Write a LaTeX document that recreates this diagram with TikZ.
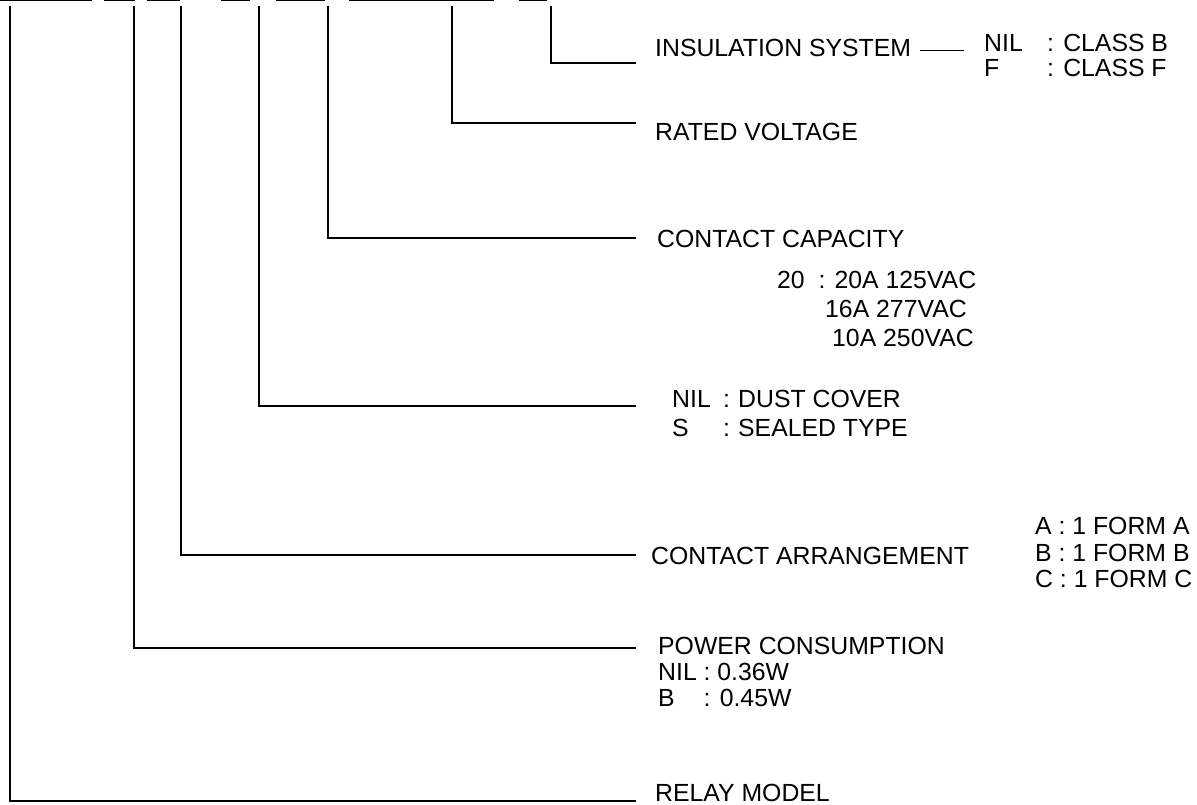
\documentclass[tikz,border=0pt]{standalone}
\usepackage{fontspec}
\setmainfont{Liberation Sans}
\usetikzlibrary{positioning, calc}
\usepackage{xcolor}
\definecolor{leadblack}{RGB}{0, 0, 0}
\tikzstyle{codetext} = [anchor=base west, inner sep=0pt, font=\fontsize{24.8}{28}\selectfont]
\tikzstyle{leadline} = [line width=2.8pt, leadblack]
\tikzstyle{codebar} = [line width=2.6pt, leadblack]
\tikzstyle{thinlead} = [line width=1.2pt, leadblack]

\begin{document}
\begin{tikzpicture}[x=1pt, y=-1pt]
\useasboundingbox (0,0) rectangle (1197,804);

% underlines of the type code
\foreach \a/\b in {0/92, 104/135, 147/180, 221/250, 276/325, 349/494, 519/547}
    \draw[codebar] (\a,0) -- (\b,0);

% tops and ends of the leaders
\coordinate (insT) at (551,6);   \coordinate (insE) at (636,63);
\coordinate (ratedT) at (452,6); \coordinate (ratedE) at (636,123);
\coordinate (capT) at (328,6);   \coordinate (capE) at (636,238);
\coordinate (dustT) at (259,6);  \coordinate (dustE) at (636,406);
\coordinate (arrT) at (181,6);   \coordinate (arrE) at (636,555);
\coordinate (powerT) at (134,6); \coordinate (powerE) at (636,648);
\coordinate (relayT) at (10,6);  \coordinate (relayE) at (636,801);

\foreach \n in {ins, rated, cap, dust, arr, power, relay}
    \draw[leadline] (\n T) |- (\n E);

% labels
\node[codetext] (insul) at (655,56) {INSULATION SYSTEM};
\node[codetext] (insnil) at (984,51) {\makebox[63pt][l]{NIL}: CLASS B};
\node[codetext] (insf) at (984,76) {\makebox[63pt][l]{F}: CLASS F};
\draw[thinlead] ([xshift=9pt,yshift=-3pt]insul.east) -- ++(44,0);

\node[codetext] (rated) at (655,140) {RATED VOLTAGE};

\node[codetext] (cap) at (657,247) {CONTACT CAPACITY};
\node[codetext] (cap20) at (777,288) {20\ \ : 20A 125VAC};
\node[codetext] (cap16) at (825,317) {16A 277VAC};
\node[codetext] (cap10) at (832,346) {10A 250VAC};

\node[codetext] (dustnil) at (672,407) {\makebox[51pt][l]{NIL}\makebox[15pt][l]{:}DUST COVER};
\node[codetext] (dusts) at (672,436) {\makebox[51pt][l]{S}\makebox[15pt][l]{:}SEALED TYPE};

\node[codetext] (arr) at (651,564) {CONTACT ARRANGEMENT};
\node[codetext] (arra) at (1035,534) {A : 1 FORM A};
\node[codetext] (arrb) at (1035,561) {B : 1 FORM B};
\node[codetext] (arrc) at (1035,587) {C : 1 FORM C};

\node[codetext] (power) at (658,654) {POWER CONSUMPTION};
\node[codetext] (powernil) at (658,680) {NIL : 0.36W};
\node[codetext] (powerb) at (658,706) {\makebox[45.5pt][l]{B}: 0.45W};

\node[codetext] (relay) at (655,801) {RELAY MODEL};
\end{tikzpicture}
\end{document}
